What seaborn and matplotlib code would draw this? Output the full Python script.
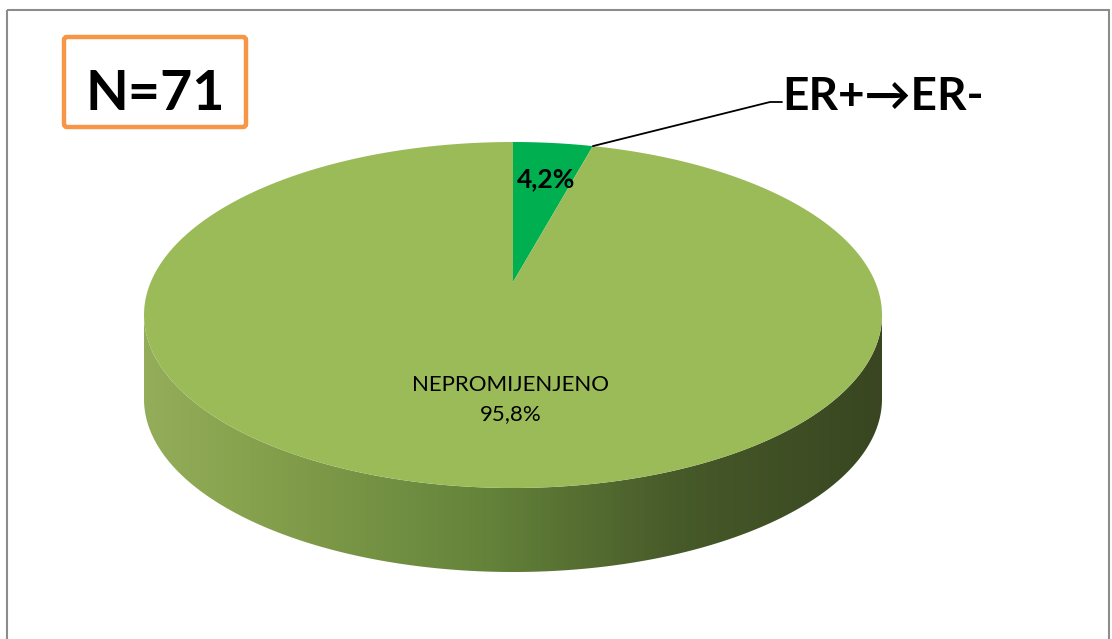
import numpy as np
import matplotlib
matplotlib.use("Agg")
import matplotlib.pyplot as plt
import seaborn as sns
from matplotlib.patches import Polygon, FancyBboxPatch, Rectangle
from matplotlib.colors import LinearSegmentedColormap

# ---- data ----
categories = ["ER+→ER-", "NEPROMIJENJENO"]
values = [4.2, 95.8]
n_total = 71
slice_colors = ["#00b050", "#9bbb59"]

sns.set_theme(style="white")
plt.rcParams['font.family'] = ['Lato', 'DejaVu Sans']

W, H = 1112, 639
fig = plt.figure(figsize=(W / 100, H / 100), dpi=100)
ax = fig.add_axes([0, 0, 1, 1])
ax.set_xlim(0, W)
ax.set_ylim(H, 0)
ax.axis('off')

# chart frame
ax.add_patch(Rectangle((7, 10), 1102, 660, fill=False, edgecolor="#8c8c8c", lw=1.5))

# 3D pie geometry
cx, cy, a, b, depth = 513, 315, 369, 173, 84
tilt = 0.19
s = np.arctanh(tilt)
ch, sh = np.cosh(s), np.sinh(s)


def project(theta_deg, r=1.0):
    t = np.radians(theta_deg)
    u = r * np.sin(t)
    v = r * np.cos(t)
    d = v * sh + ch
    return cx + a * u / d, cy - b * (v * ch + sh) / d


# side wall (front half) with horizontal gradient
phi = np.linspace(0, np.pi, 300)
xs = cx + a * np.cos(phi)
ys = cy + b * np.sin(phi)
side_pts = np.vstack([np.column_stack([xs, ys]),
                      np.column_stack([xs[::-1], ys[::-1] + depth])])
side_poly = Polygon(side_pts, closed=True, facecolor="none", edgecolor="none")
ax.add_patch(side_poly)
cmap = LinearSegmentedColormap.from_list(
    "side", [(0.0, "#93ad5a"), (0.12, "#89a44f"), (0.45, "#66853b"),
             (0.72, "#475a29"), (1.0, "#394621")])
grad = np.linspace(0, 1, 512)[None, :]
im = ax.imshow(grad, cmap=cmap, extent=(cx - a, cx + a, cy + b + depth + 5, cy - 5),
               aspect='auto', zorder=1)
im.set_clip_path(side_poly)
ax.set_xlim(0, W)
ax.set_ylim(H, 0)

# top face slices (clockwise from 12 o'clock)
total = sum(values)
start = 0.0
apex = project(0, 0.0)
bounds = []
for val, col in zip(values, slice_colors):
    span = 360.0 * val / total
    th = np.linspace(start, start + span, 300)
    px, py = project(th)
    pts = np.vstack([[apex], np.column_stack([px, py])])
    ax.add_patch(Polygon(pts, closed=True, facecolor=col, edgecolor="none", zorder=2))
    bounds.append((start, start + span))
    start += span

# labels
s0, s1 = bounds[0]
lx, ly = project((s0 + s1) / 2, 0.7)
ax.text(lx + 4, ly - 1, f"{values[0]:.1f}%".replace(".", ","), ha="center", va="center",
        fontsize=19, fontweight="bold", color="black", zorder=3)
ax.text(cx - 2, cy + 0.49 * b, f"{categories[1]}\n{values[1]:.1f}%".replace(".", ","),
        ha="center", va="center", fontsize=16, color="black", linespacing=1.55, zorder=3)

# leader line and outside label for small slice
ex, ey = project(s1)
ax.plot([ex, 770, 782], [ey, 102, 102], color="black", lw=1.3, zorder=3)
ax.text(782, 110, categories[0], ha="left", va="baseline", fontsize=33,
        fontweight="bold", color="black", family=['Lato', 'DejaVu Sans'], zorder=3)

# N box
ax.add_patch(FancyBboxPatch((64, 37), 182, 90, boxstyle="round,pad=0,rounding_size=3",
                            fill=False, edgecolor="#f79646", lw=3.2, zorder=3))
ax.text(155, 110, f"N={n_total}", ha="center", va="baseline", fontsize=40,
        fontweight="bold", color="black", zorder=4)

fig.savefig("out.png", dpi=100)
